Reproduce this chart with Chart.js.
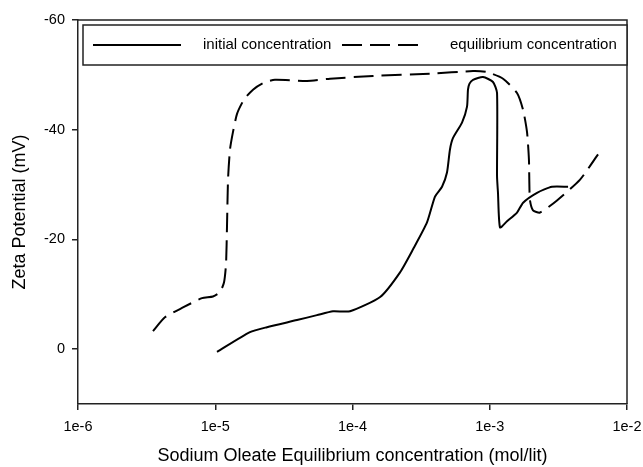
<!DOCTYPE html>
<html>
<head>
<meta charset="utf-8">
<title>Zeta potential vs sodium oleate</title>
<script src="https://cdn.jsdelivr.net/npm/chart.js@4.4.0/dist/chart.umd.min.js"></script>
<style>
  html, body { margin: 0; padding: 0; background: #fff; }
  #wrap { width: 643px; height: 467px; }
</style>
</head>
<body>
<div id="wrap"><canvas id="zetaChart" width="643" height="467"></canvas></div>
<script>
// initial concentration curve (mol/lit, mV)
const initConc = [1.03e-5, 1.79e-5, 2.38e-5, 3.94e-5, 5.51e-5, 7.21e-5, 9.59e-5, 1.59e-4, 2.22e-4, 2.76e-4,
    3.49e-4, 3.99e-4, 4.49e-4, 4.88e-4, 5.13e-4, 5.40e-4, 6.28e-4, 6.83e-4, 6.94e-4, 7.12e-4, 7.55e-4, 8.93e-4,
    1.056e-3, 1.13e-3, 1.13e-3, 1.148e-3, 1.188e-3, 1.336e-3, 1.58e-3, 1.75e-3, 2.21e-3, 2.84e-3, 3.72e-3];
const initZeta = [0.5, -3.1, -4.0, -5.3, -6.2, -6.9, -6.9, -9.5, -14.0, -18.2,
    -23.1, -27.8, -29.6, -32.2, -36.4, -38.5, -41.3, -44.2, -47.3, -48.4, -49.1, -49.6,
    -48.7, -46.7, -31.5, -28.5, -22.2, -23.3, -24.9, -26.7, -28.5, -29.6, -29.6];

// equilibrium concentration curve
const eqConc = [3.52e-6, 4.30e-6, 5.82e-6, 8.01e-6, 9.63e-6, 1.083e-5, 1.159e-5, 1.198e-5, 1.218e-5, 1.239e-5,
    1.281e-5, 1.347e-5, 1.441e-5, 1.62e-5, 1.884e-5, 2.23e-5, 2.72e-5, 4.66e-5, 6.86e-5, 1.41e-4,
    3.67e-4, 7.55e-4, 9.55e-4, 1.25e-3, 1.58e-3, 1.75e-3, 1.87e-3, 1.93e-3, 1.96e-3, 2.066e-3,
    2.323e-3, 3.09e-3, 4.55e-3, 6.15e-3];
const eqZeta = [-3.3, -5.8, -7.6, -9.3, -9.6, -10.4, -12.2, -15.5, -22.4, -30.9,
    -36.4, -39.6, -42.9, -45.5, -47.3, -48.5, -49.1, -48.9, -49.3, -49.8,
    -50.2, -50.7, -50.5, -49.3, -46.7, -43.6, -39.5, -34.5, -27.3, -25.3,
    -24.9, -27.1, -30.9, -35.5];

const xTickValues = [1e-6, 1e-5, 1e-4, 1e-3, 1e-2];
const xTickLabels = ['1e-6', '1e-5', '1e-4', '1e-3', '1e-2'];
const yTickValues = [-60, -40, -20, 0];
const yTickLabels = ['-60', '-40', '-20', '0'];

const seriesNames = ['initial concentration', 'equilibrium concentration'];

const FONT = '"Liberation Sans", Arial, sans-serif';
const INK = '#222';

const toPoints = (xs, ys) => xs.map((x, i) => ({ x: x, y: ys[i] }));

// top/right frame lines plus the boxed legend inside the plot
const frameAndLegend = {
    id: 'frameAndLegend',
    afterDraw(chart) {
        const { ctx, chartArea: a } = chart;
        ctx.save();
        ctx.strokeStyle = INK;
        ctx.lineWidth = 1.5;
        ctx.beginPath();
        ctx.moveTo(a.left, a.top);
        ctx.lineTo(a.right, a.top);
        ctx.lineTo(a.right, a.bottom);
        ctx.stroke();

        const left = a.left + 5, top = a.top + 5, h = 40;
        ctx.fillStyle = '#fff';
        ctx.fillRect(left, top, a.right - left, h);
        ctx.strokeRect(left, top, a.right - left, h);

        const cy = top + h / 2;
        const items = [
            { x0: left + 10, len: 88, textX: left + 120 },
            { x0: left + 259, len: 78, textX: left + 367 }
        ];
        items.forEach((it, i) => {
            const ds = chart.data.datasets[i];
            ctx.strokeStyle = ds.borderColor;
            ctx.lineWidth = ds.borderWidth;
            ctx.setLineDash(ds.borderDash || []);
            ctx.beginPath();
            ctx.moveTo(it.x0, cy);
            ctx.lineTo(it.x0 + it.len, cy);
            ctx.stroke();
            ctx.setLineDash([]);
            ctx.fillStyle = '#000';
            ctx.font = '15px ' + FONT;
            ctx.textBaseline = 'middle';
            ctx.textAlign = 'left';
            ctx.fillText(ds.label, it.textX, cy);
        });
        ctx.restore();
    }
};

new Chart(document.getElementById('zetaChart'), {
    type: 'line',
    data: {
        datasets: [
            {
                label: seriesNames[0],
                data: toPoints(initConc, initZeta),
                borderColor: '#000', borderWidth: 2, pointRadius: 0, tension: 0.2, fill: false
            },
            {
                label: seriesNames[1],
                data: toPoints(eqConc, eqZeta),
                borderColor: '#000', borderWidth: 2, borderDash: [20, 8], pointRadius: 0, tension: 0.2, fill: false
            }
        ]
    },
    options: {
        responsive: false,
        animation: false,
        layout: { padding: { top: 20, right: 16, left: 0, bottom: 0 } },
        plugins: { legend: { display: false }, tooltip: { enabled: false } },
        scales: {
            x: {
                type: 'logarithmic', min: 1e-6, max: 1e-2,
                afterBuildTicks: s => { s.ticks = xTickValues.map(v => ({ value: v })); },
                // fixed height; end labels may hang into the outer margin
                afterFit: s => { s.height = 63; s.paddingLeft = 0; s.paddingRight = 0; },
                ticks: {
                    autoSkip: false, maxRotation: 0, padding: 8, color: '#000',
                    font: { family: FONT, size: 14.5 },
                    callback: (v, i) => xTickLabels[i]
                },
                grid: { drawOnChartArea: false, tickLength: 6, color: INK, lineWidth: 1.5 },
                border: { color: INK, width: 1.5 },
                title: {
                    display: true, text: 'Sodium Oleate Equilibrium concentration (mol/lit)',
                    color: '#000', font: { family: FONT, size: 18 }, padding: { top: 0, bottom: 0 }
                }
            },
            y: {
                type: 'linear', reverse: true, min: -60, max: 10,
                afterBuildTicks: s => { s.ticks = yTickValues.map(v => ({ value: v })); },
                afterFit: s => { s.width = 78; },
                ticks: {
                    padding: 7, color: '#000',
                    font: { family: FONT, size: 14.5 },
                    callback: (v, i) => yTickLabels[i]
                },
                grid: { drawOnChartArea: false, tickLength: 6, color: INK, lineWidth: 1.5 },
                border: { color: INK, width: 1.5 },
                title: {
                    display: true, text: 'Zeta Potential (mV)',
                    color: '#000', font: { family: FONT, size: 18 }, padding: { top: 9, bottom: 0 }
                }
            }
        }
    },
    plugins: [frameAndLegend]
});
</script>
</body>
</html>
